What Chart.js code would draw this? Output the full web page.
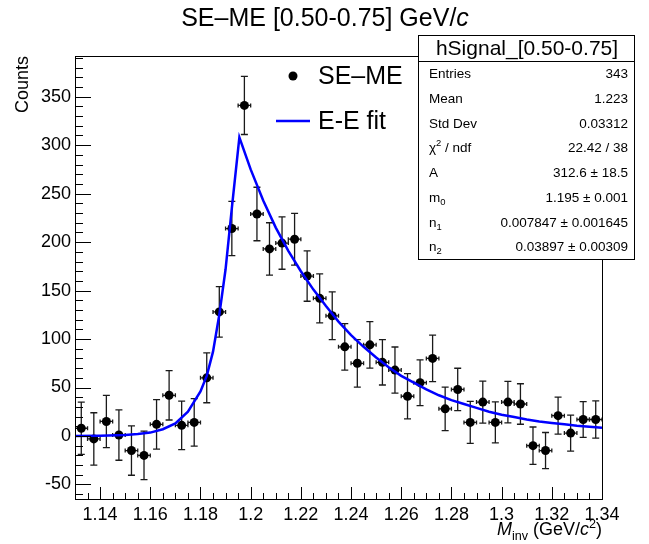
<!DOCTYPE html>
<html>
<head>
<meta charset="utf-8">
<script src="https://cdn.jsdelivr.net/npm/chart.js@4.4.1/dist/chart.umd.min.js"></script>
<style>
  html, body { margin: 0; padding: 0; background: #fff; }
  #wrap { width: 649px; height: 544px; }
</style>
</head>
<body>
<div id="wrap"><canvas id="myChart" width="649" height="544"></canvas></div>
<script>
// bin centres (GeV/c^2), SE-ME counts and their errors
var binX = [1.1325, 1.1375, 1.1425, 1.1475, 1.1525, 1.1575, 1.1625, 1.1675, 1.1725, 1.1775,
            1.1825, 1.1875, 1.1925, 1.1975, 1.2025, 1.2075, 1.2125, 1.2175, 1.2225, 1.2275,
            1.2325, 1.2375, 1.2425, 1.2475, 1.2525, 1.2575, 1.2625, 1.2675, 1.2725, 1.2775,
            1.2825, 1.2875, 1.2925, 1.2975, 1.3025, 1.3075, 1.3125, 1.3175, 1.3225, 1.3275,
            1.3325, 1.3375];
var counts = [8, -3, 15, 1, -15, -20, 12, 42, 11, 14,
              60, 128, 214, 341, 229, 193, 199, 203, 165, 142,
              124, 92, 75, 94, 76, 68, 41, 55, 80, 28,
              48, 14, 35, 14, 35, 33, -10, -15, 21, 3,
              17, 17];
var errY = [27, 27, 27, 26, 25.5, 25, 25.5, 25.5, 25, 24.5,
            25.7, 26, 28, 30, 27.6, 27, 27, 26.7, 26, 25.3,
            24.6, 24, 24.5, 24, 23.4, 23.8, 23.3, 23.6, 24, 22.4,
            21.9, 21.7, 21.7, 21.2, 21.4, 20.9, 19.3, 18.6, 19.1, 18.6,
            18.4, 19.3];
var binHalf = 0.0025;

// E-E fit curve
var fitX = [1.130, 1.140, 1.150, 1.155, 1.160, 1.165, 1.170, 1.175, 1.180, 1.1825,
            1.185, 1.1875, 1.190, 1.1925, 1.1955, 1.200, 1.205, 1.210, 1.215, 1.220,
            1.225, 1.230, 1.235, 1.240, 1.245, 1.250, 1.255, 1.260, 1.265, 1.270,
            1.275, 1.280, 1.285, 1.290, 1.295, 1.300, 1.305, 1.310, 1.315, 1.320,
            1.325, 1.330, 1.335, 1.340];
var fitY = [0, 0.3, 1, 2, 3.5, 7, 13, 25, 46, 62,
            87, 125, 172, 235, 308, 275, 243, 215, 191, 170,
            151, 134, 118, 104, 92, 81, 71, 62, 55, 48,
            42, 37, 33, 29, 25, 22, 19.5, 17, 15, 13.5,
            12, 10.5, 9.5, 8.5];

var xTicks = [1.14, 1.16, 1.18, 1.2, 1.22, 1.24, 1.26, 1.28, 1.3, 1.32, 1.34];
var yTicks = [-50, 0, 50, 100, 150, 200, 250, 300, 350];

var statNames = [
  [{t: 'Entries'}],
  [{t: 'Mean'}],
  [{t: 'Std Dev'}],
  [{t: 'χ'}, {t: '2', sup: true}, {t: ' / ndf'}],
  [{t: 'A'}],
  [{t: 'm'}, {t: '0', sub: true}],
  [{t: 'n'}, {t: '1', sub: true}],
  [{t: 'n'}, {t: '2', sub: true}]
];
var statValues = ['343', '1.223', '0.03312', '22.42 / 38', '312.6 ± 18.5',
                  '1.195 ± 0.001', '0.007847 ± 0.001645', '0.03897 ± 0.00309'];

var FONT = '"Liberation Sans", Arial, Helvetica, sans-serif';

// draws text made of pieces (italic, sub, sup)
function richText(ctx, parts, x, y, size, align) {
  var widths = [], total = 0;
  parts.forEach(function(p) {
    var s = (p.sub || p.sup) ? size * 0.7 : size;
    ctx.font = (p.it ? 'italic ' : '') + s + 'px ' + FONT;
    var w = ctx.measureText(p.t).width;
    widths.push(w); total += w;
  });
  var cx = align === 'right' ? x - total : (align === 'center' ? x - total / 2 : x);
  ctx.textAlign = 'left';
  parts.forEach(function(p, i) {
    var s = (p.sub || p.sup) ? size * 0.7 : size;
    ctx.font = (p.it ? 'italic ' : '') + s + 'px ' + FONT;
    var dy = p.sub ? size * 0.3 : (p.sup ? -size * 0.4 : 0);
    ctx.fillText(p.t, cx, y + dy);
    cx += widths[i];
  });
}

var errorBars = {
  id: 'errorBars',
  beforeDatasetsDraw: function(chart) {
    var ctx = chart.ctx, xs = chart.scales.x, ys = chart.scales.y;
    var a = chart.chartArea;
    ctx.save();
    ctx.beginPath();
    ctx.rect(a.left, a.top, a.right - a.left, a.bottom - a.top);
    ctx.clip();
    ctx.strokeStyle = '#1a1a1a';
    ctx.lineWidth = 1.3;
    for (var i = 0; i < binX.length; i++) {
      var px = xs.getPixelForValue(binX[i]);
      var py = ys.getPixelForValue(counts[i]);
      var x0 = xs.getPixelForValue(binX[i] - binHalf);
      var x1 = xs.getPixelForValue(binX[i] + binHalf);
      var y0 = ys.getPixelForValue(counts[i] + errY[i]);
      var y1 = ys.getPixelForValue(counts[i] - errY[i]);
      ctx.beginPath();
      ctx.moveTo(x0, py); ctx.lineTo(x1, py);
      ctx.moveTo(x0, py - 2); ctx.lineTo(x0, py + 2);
      ctx.moveTo(x1, py - 2); ctx.lineTo(x1, py + 2);
      ctx.moveTo(px, y0); ctx.lineTo(px, y1);
      ctx.moveTo(px - 3.5, y0); ctx.lineTo(px + 3.5, y0);
      ctx.moveTo(px - 3.5, y1); ctx.lineTo(px + 3.5, y1);
      ctx.stroke();
    }
    ctx.restore();
  }
};

var rootFrame = {
  id: 'rootFrame',
  afterDraw: function(chart) {
    var ctx = chart.ctx, xs = chart.scales.x, ys = chart.scales.y;
    var a = chart.chartArea;
    ctx.save();
    ctx.strokeStyle = '#000';
    ctx.lineWidth = 1;
    ctx.strokeRect(a.left + 0.5, a.top + 0.5, a.right - a.left, a.bottom - a.top);

    // inward ticks, x axis
    ctx.beginPath();
    for (var v = 1.13; v <= 1.3401; v += 0.005) {
      var px = Math.round(xs.getPixelForValue(v)) + 0.5;
      var major = Math.abs(Math.round(v * 50) - v * 50) < 1e-6;
      ctx.moveTo(px, a.bottom);
      ctx.lineTo(px, a.bottom - (major ? 12 : 6));
    }
    // inward ticks, y axis
    for (var w = -60; w <= 390; w += 10) {
      var py = Math.round(ys.getPixelForValue(w)) + 0.5;
      var maj = w % 50 === 0;
      ctx.moveTo(a.left, py);
      ctx.lineTo(a.left + (maj ? 16 : 8), py);
    }
    ctx.stroke();

    ctx.fillStyle = '#000';
    ctx.textBaseline = 'alphabetic';
    // title
    richText(ctx, [{t: 'SE–ME [0.50-0.75] GeV/'}, {t: 'c', it: true}], 325, 26, 25, 'center');

    // y title
    ctx.save();
    ctx.translate(28, a.top);
    ctx.rotate(-Math.PI / 2);
    ctx.font = '18px ' + FONT;
    ctx.textAlign = 'right';
    ctx.fillText('Counts', 0, 0);
    ctx.restore();

    // x title
    richText(ctx, [{t: 'M', it: true}, {t: 'inv', sub: true}, {t: ' (GeV/'}, {t: 'c', it: true},
                   {t: '2', sup: true}, {t: ')'}], a.right, 535, 18, 'right');

    // legend
    ctx.beginPath();
    ctx.arc(293, 76, 4.5, 0, Math.PI * 2);
    ctx.fill();
    ctx.strokeStyle = 'rgb(0,0,255)';
    ctx.lineWidth = 2.5;
    ctx.beginPath();
    ctx.moveTo(276, 121); ctx.lineTo(310, 121);
    ctx.stroke();
    ctx.font = '25px ' + FONT;
    ctx.textBaseline = 'middle';
    ctx.textAlign = 'left';
    ctx.fillText('SE–ME', 318, 77);
    ctx.fillText('E-E fit', 318, 122);

    // stats box
    var bx = 418, by = 35, bw = 216, bh = 224, hh = 26;
    ctx.fillStyle = '#fff';
    ctx.fillRect(bx, by, bw, bh);
    ctx.strokeStyle = '#000';
    ctx.lineWidth = 1;
    ctx.strokeRect(bx + 0.5, by + 0.5, bw, bh);
    ctx.beginPath();
    ctx.moveTo(bx, by + hh + 0.5); ctx.lineTo(bx + bw, by + hh + 0.5);
    ctx.stroke();
    ctx.fillStyle = '#000';
    ctx.font = '21px ' + FONT;
    ctx.textAlign = 'center';
    ctx.fillText('hSignal_[0.50-0.75]', bx + bw / 2 + 1, by + hh / 2 + 1);
    var rowH = (bh - hh) / statNames.length;
    for (var r = 0; r < statNames.length; r++) {
      var cy = by + hh + rowH * (r + 0.5) + 1;
      richText(ctx, statNames[r], bx + 11, cy, 13.5, 'left');
      richText(ctx, [{t: statValues[r]}], bx + bw - 6, cy, 13.5, 'right');
    }
    ctx.restore();
  }
};

var dataPts = binX.map(function(x, i) { return {x: x, y: counts[i]}; });
var fitPts = fitX.map(function(x, i) { return {x: x, y: fitY[i]}; });

var ctx = document.getElementById('myChart').getContext('2d');
var myChart = new Chart(ctx, {
  type: 'scatter',
  data: {
    datasets: [{
      label: 'E-E fit',
      data: fitPts,
      showLine: true,
      borderColor: 'rgb(0,0,255)',
      borderWidth: 2.5,
      pointRadius: 0,
      tension: 0,
      order: 0
    }, {
      label: 'SE–ME',
      data: dataPts,
      pointRadius: 4.5,
      pointHoverRadius: 4.5,
      backgroundColor: '#000',
      borderColor: '#000',
      borderWidth: 0,
      order: 1
    }]
  },
  options: {
    responsive: false,
    animation: false,
    events: [],
    layout: { padding: { top: 56, right: 47, left: 0, bottom: 0 } },
    plugins: { legend: { display: false }, title: { display: false }, tooltip: { enabled: false } },
    scales: {
      x: {
        type: 'linear',
        min: 1.13,
        max: 1.34,
        grid: { display: false, drawTicks: false },
        border: { display: false },
        afterFit: function(s) { s.height = 45; },
        afterBuildTicks: function(s) { s.ticks = xTicks.map(function(v) { return {value: v}; }); },
        ticks: {
          padding: 5,
          maxRotation: 0,
          autoSkip: false,
          color: '#000',
          font: { family: FONT, size: 18 },
          callback: function(v) { return String(+v.toFixed(2)); }
        }
      },
      y: {
        type: 'linear',
        min: -65,
        max: 392,
        grid: { display: false, drawTicks: false },
        border: { display: false },
        afterFit: function(s) { s.width = 75; },
        afterBuildTicks: function(s) { s.ticks = yTicks.map(function(v) { return {value: v}; }); },
        ticks: {
          padding: 4,
          color: '#000',
          font: { family: FONT, size: 18 }
        }
      }
    }
  },
  plugins: [errorBars, rootFrame]
});
</script>
</body>
</html>
